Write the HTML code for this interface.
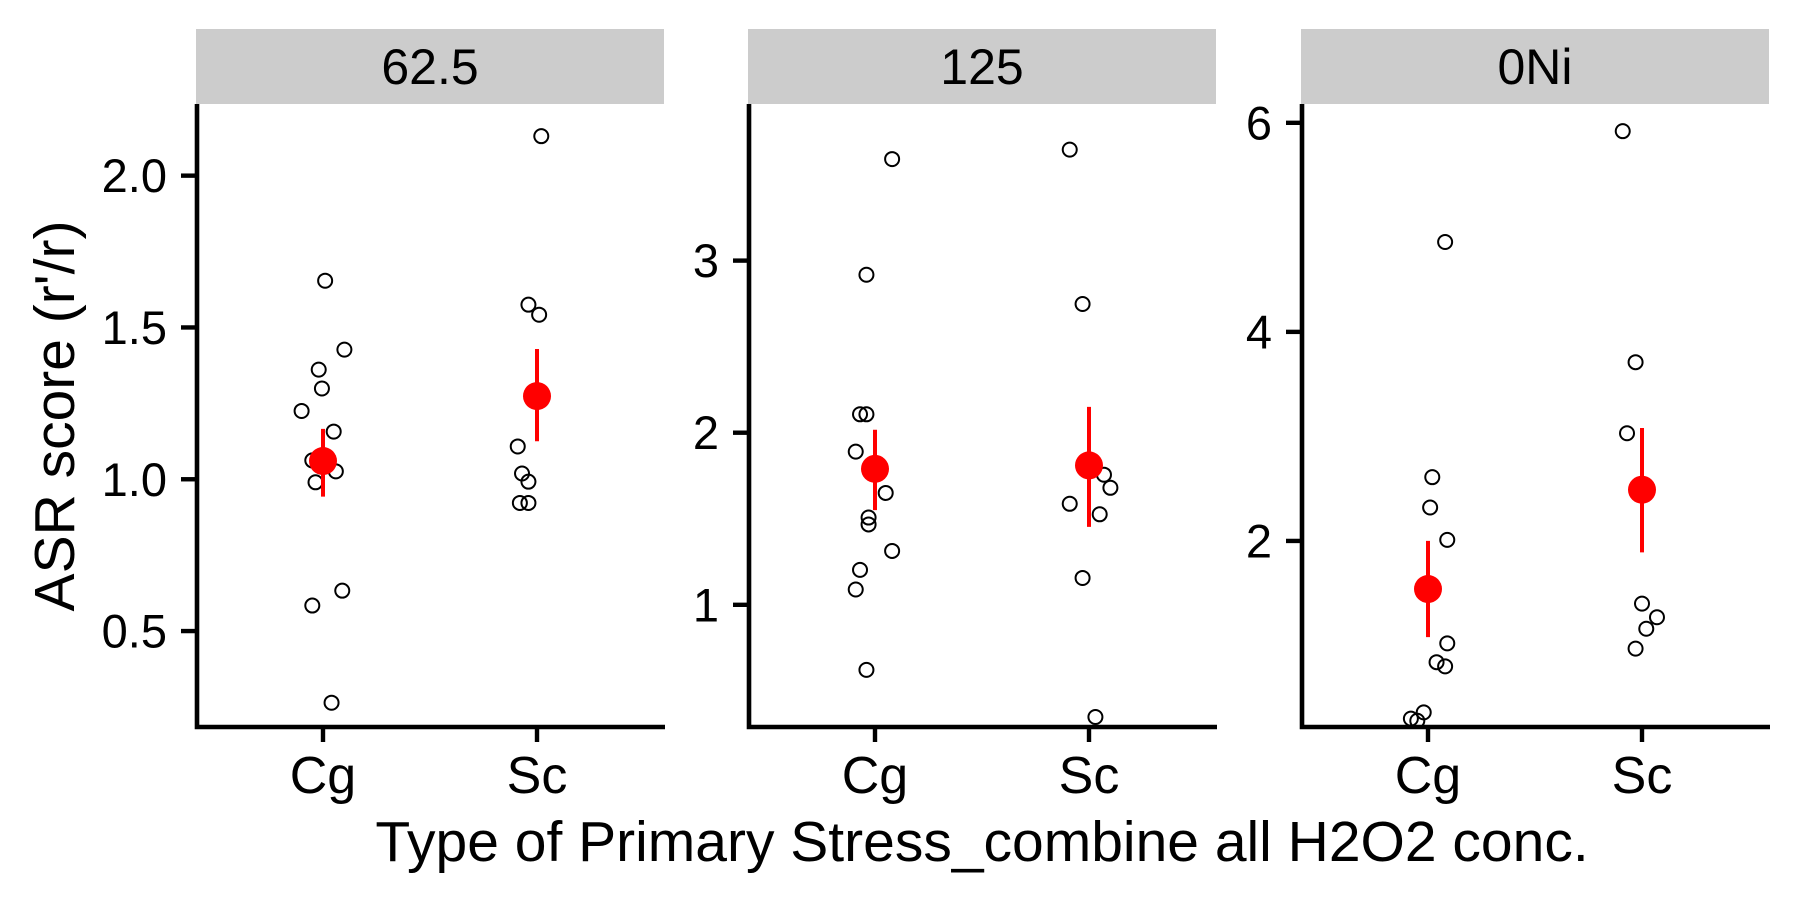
<!DOCTYPE html>
<html><head><meta charset="utf-8"><style>
html,body{margin:0;padding:0;background:#fff;}
svg{display:block;font-family:"Liberation Sans",Arial,sans-serif;}
</style></head><body>
<svg id="chart" width="1800" height="900" viewBox="0 0 1800 900">
<text x="55" y="416" transform="rotate(-90 55 416)" text-anchor="middle" dominant-baseline="central" font-size="57">ASR score (r'/r)</text>
<text x="982" y="861" text-anchor="middle" font-size="57">Type of Primary Stress_combine all H2O2 conc.</text>
</svg>
<script>
const panelNames = ["62.5", "125", "0Ni"];
const categories = ["Cg", "Sc"];
const yTicks0 = [0.5, 1.0, 1.5, 2.0];
const yTicks1 = [1, 2, 3];
const yTicks2 = [2, 4, 6];
const yTickLabels0 = ["0.5", "1.0", "1.5", "2.0"];
const yTickLabels1 = ["1", "2", "3"];
const yTickLabels2 = ["2", "4", "6"];
const yDomain0 = [0.184, 2.236];
const yDomain1 = [0.29, 3.91];
const yDomain2 = [0.22, 6.18];
const p0CgVals = [1.654,1.427,1.361,1.299,1.225,1.157,1.062,1.026,0.990,0.633,0.584,0.264];
const p0CgJit = [0.01,0.10,-0.02,-0.005,-0.10,0.05,-0.05,0.06,-0.035,0.09,-0.05,0.04];
const p0ScVals = [2.130,1.575,1.542,1.108,1.019,0.992,0.922,0.922];
const p0ScJit = [0.02,-0.04,0.01,-0.09,-0.07,-0.04,-0.08,-0.04];
const p1CgVals = [3.59,2.918,2.107,2.107,1.89,1.65,1.507,1.467,1.313,1.203,1.089,0.622];
const p1CgJit = [0.08,-0.04,-0.07,-0.04,-0.09,0.05,-0.03,-0.03,0.08,-0.07,-0.09,-0.04];
const p1ScVals = [3.645,2.748,1.756,1.68,1.587,1.526,1.156,0.348];
const p1ScJit = [-0.09,-0.03,0.07,0.10,-0.09,0.05,-0.03,0.03];
const p2CgVals = [4.86,2.61,2.32,2.01,1.02,0.84,0.80,0.36,0.30,0.28];
const p2CgJit = [0.08,0.02,0.01,0.09,0.09,0.04,0.08,-0.02,-0.08,-0.05];
const p2ScVals = [5.92,3.71,3.03,1.40,1.27,1.16,0.97];
const p2ScJit = [-0.09,-0.03,-0.07,0,0.07,0.02,-0.03];
const meanVals0 = [1.06, 1.274];
const errLow0 = [0.943, 1.125];
const errHigh0 = [1.166, 1.429];
const meanVals1 = [1.79, 1.81];
const errLow1 = [1.55, 1.453];
const errHigh1 = [2.017, 2.15];
const meanVals2 = [1.54, 2.49];
const errLow2 = [1.08, 1.89];
const errHigh2 = [2.0, 3.08];

const NS = "http://www.w3.org/2000/svg";
const svgEl = document.getElementById("chart");
function mk(tag, attrs, parent) {
  const e = document.createElementNS(NS, tag);
  for (const k in attrs) e.setAttribute(k, attrs[k]);
  (parent || svgEl).appendChild(e);
  return e;
}
const panelLeft = [197, 749, 1302];
const panelW = 468, plotTop = 104, plotBottom = 727;
const panels = [
  {ticks: yTicks0, labels: yTickLabels0, dom: yDomain0, pts: [[p0CgVals,p0CgJit],[p0ScVals,p0ScJit]], m: meanVals0, lo: errLow0, hi: errHigh0},
  {ticks: yTicks1, labels: yTickLabels1, dom: yDomain1, pts: [[p1CgVals,p1CgJit],[p1ScVals,p1ScJit]], m: meanVals1, lo: errLow1, hi: errHigh1},
  {ticks: yTicks2, labels: yTickLabels2, dom: yDomain2, pts: [[p2CgVals,p2CgJit],[p2ScVals,p2ScJit]], m: meanVals2, lo: errLow2, hi: errHigh2}
];
panels.forEach((p, i) => {
  const L = panelLeft[i];
  const g = mk("g", {});
  
  
  const yS = v => plotBottom - (v - p.dom[0]) / (p.dom[1] - p.dom[0]) * (plotBottom - plotTop);
  const xS = c => L + 126 + c * 214;
  const strip = mk("rect", {x: L - 1, y: 29, width: panelW, height: 75, fill: "#cccccc"}, g);
  
  
  const st = mk("text", {x: L - 1 + panelW / 2, y: 84, "text-anchor": "middle", "font-size": 50}, g);
  st.textContent = panelNames[i];
  
  
  const ax = mk("path", {d: `M${L} ${plotTop}V${plotBottom}H${L + panelW}`, stroke: "#000", "stroke-width": 4.6, fill: "none"}, g);
  
  
  p.ticks.forEach((t, k) => {
    mk("line", {x1: L - 16, x2: L, y1: yS(t), y2: yS(t), stroke: "#000", "stroke-width": 4.4}, g);
    const tl = mk("text", {x: L - 30, y: yS(t), "text-anchor": "end", "dominant-baseline": "central", "font-size": 47}, g);
    tl.textContent = p.labels[k];
    
    
  });
  categories.forEach((c, ci) => {
    mk("line", {x1: xS(ci), x2: xS(ci), y1: plotBottom, y2: plotBottom + 15, stroke: "#000", "stroke-width": 4.4}, g);
    const xl = mk("text", {x: xS(ci), y: 793, "text-anchor": "middle", "font-size": 52}, g);
    xl.textContent = c;
    
    
    const vals = p.pts[ci][0], jit = p.pts[ci][1];
    vals.forEach((v, k) => {
      const pt = mk("circle", {cx: xS(ci + jit[k]), cy: yS(v), r: 7, fill: "none", stroke: "#000", "stroke-width": 2}, g);
      
      
    });
    const eb = mk("line", {x1: xS(ci), x2: xS(ci), y1: yS(p.lo[ci]), y2: yS(p.hi[ci]), stroke: "#ff0000", "stroke-width": 4}, g);
    
    
    const mc = mk("circle", {cx: xS(ci), cy: yS(p.m[ci]), r: 14, fill: "#ff0000"}, g);
    
    
  });
});
</script>
</body></html>
